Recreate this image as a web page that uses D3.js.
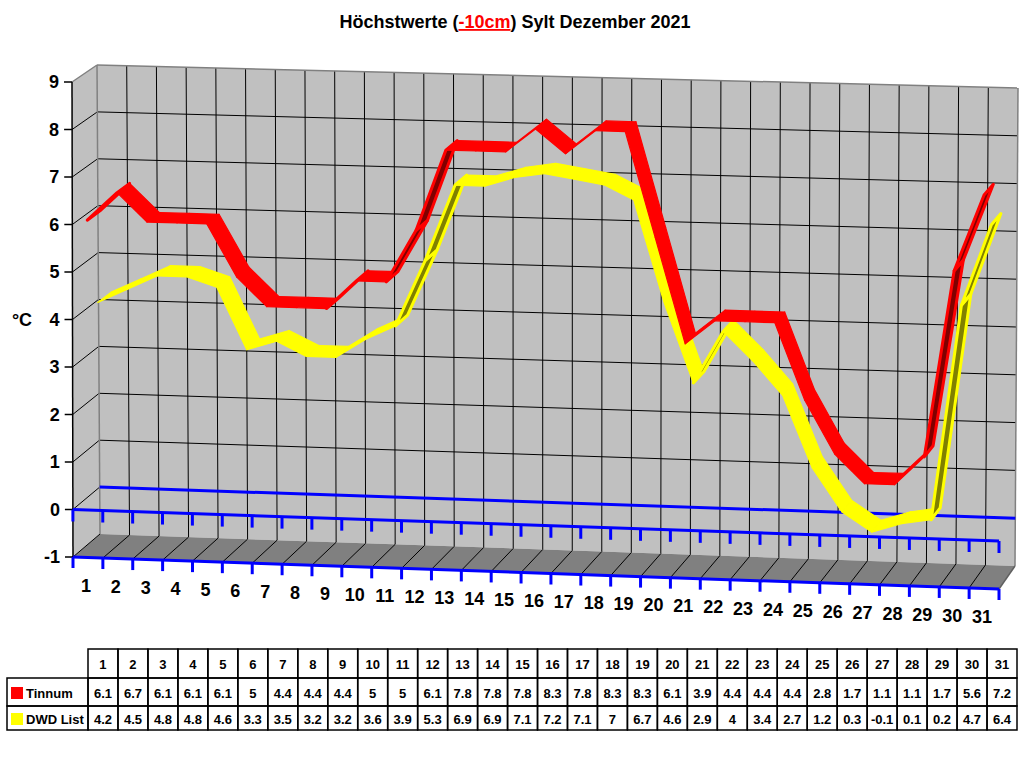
<!DOCTYPE html>
<html>
<head>
<meta charset="utf-8">
<script src="https://cdn.jsdelivr.net/npm/d3@7"></script>
<style>
body { margin: 0; background: #fff; }
text { font-family: "Liberation Sans", Arial, sans-serif; font-weight: bold; fill: #000; }
</style>
</head>
<body>
<div id="chart"></div>
<script>
const width = 1024;
const height = 768;
const titleParts = ["Höchstwerte (", "-10cm", ") Sylt Dezember 2021"];

const days = d3.range(1, 32);
const seriesNames = ["Tinnum", "DWD List"];
const tinnum = [6.1, 6.7, 6.1, 6.1, 6.1, 5, 4.4, 4.4, 4.4, 5, 5, 6.1, 7.8, 7.8, 7.8, 8.3, 7.8, 8.3, 8.3, 6.1, 3.9, 4.4, 4.4, 4.4, 2.8, 1.7, 1.1, 1.1, 1.7, 5.6, 7.2];
const dwdList = [4.2, 4.5, 4.8, 4.8, 4.6, 3.3, 3.5, 3.2, 3.2, 3.6, 3.9, 5.3, 6.9, 6.9, 7.1, 7.2, 7.1, 7, 6.7, 4.6, 2.9, 4, 3.4, 2.7, 1.2, 0.3, -0.1, 0.1, 0.2, 4.7, 6.4];
const yTicks = d3.range(-1, 10);

const seriesColors = ["#ff0000", "#ffff00"];
const seriesDark = ["#800000", "#808000"];
const seriesDepth = [[0.0, 0.5], [0.4, 0.92]]; // front / back position of each ribbon

const svg = d3.select("#chart").append("svg")
    .attr("width", width)
    .attr("height", height);

// the 3d box is mapped by its 8 screen corners, key = u v w (category, value, depth)
const uScale = d3.scaleLinear().domain([0, days.length]).range([0, 1]);
const vScale = d3.scaleLinear().domain([-1, 9]).range([0, 1]);
const box = {
    "000": [73, 557], "010": [72, 82], "100": [999, 589], "110": [999, 109],
    "001": [100, 534], "011": [97, 65], "101": [1015, 566], "111": [1018, 88]
};

function project(c, val, w) {
    const u = uScale(c), v = vScale(val);
    let x = 0, y = 0;
    for (const key in box) {
        const f = (key[0] === "1" ? u : 1 - u) * (key[1] === "1" ? v : 1 - v) * (key[2] === "1" ? w : 1 - w);
        x += f * box[key][0];
        y += f * box[key][1];
    }
    return [x, y];
}

const poly = pts => "M" + pts.map(p => p.join(",")).join("L") + "Z";
const n = days.length;

function line(g, a, b, color, sw) {
    g.append("line")
        .attr("x1", a[0]).attr("y1", a[1])
        .attr("x2", b[0]).attr("y2", b[1])
        .attr("stroke", color)
        .attr("stroke-width", sw);
}

// walls and floor
const walls = svg.append("g");
walls.append("path")
    .attr("d", poly([project(0, -1, 1), project(n, -1, 1), project(n, 9, 1), project(0, 9, 1)]))
    .attr("fill", "#c0c0c0");
walls.append("path")
    .attr("d", poly([project(0, -1, 0), project(0, -1, 1), project(0, 9, 1), project(0, 9, 0)]))
    .attr("fill", "#c0c0c0");
walls.append("path")
    .attr("d", poly([project(0, -1, 0), project(n, -1, 0), project(n, -1, 1), project(0, -1, 1)]))
    .attr("fill", "#808080");

const grid = svg.append("g");
yTicks.filter(v => v > 0 && v < 9).forEach(v => line(grid, project(0, v, 1), project(n, v, 1), "#000", 1));
yTicks.filter(v => v >= 0 && v < 9).forEach(v => line(grid, project(0, v, 0), project(0, v, 1), "#000", 1));
d3.range(1, n).forEach(k => line(grid, project(k, -1, 1), project(k, 9, 1), "#000", 1));
d3.range(0, n).forEach(k => line(grid, project(k, -1, 0), project(k, -1, 1), "#000", 1));

// box edges
line(grid, project(0, 9, 1), project(n, 9, 1), "#808080", 1.5);
line(grid, project(0, 9, 0), project(0, 9, 1), "#808080", 1.5);
line(grid, project(0, -1, 1), project(0, 9, 1), "#808080", 1.5);
line(grid, project(n, -1, 1), project(n, 9, 1), "#808080", 1.5);
line(grid, project(n, -1, 0), project(n, -1, 1), "#606060", 1.5);

// blue zero lines and category axis
const axes = svg.append("g");
line(axes, project(0, 0, 1), project(n, 0, 1), "#0000ff", 3);

// value axis
line(axes, project(0, -1, 0), project(0, 9, 0), "#000", 1.5);
yTicks.forEach(v => {
    const p = project(0, v, 0);
    line(axes, [p[0] - 8, p[1]], p, "#000", 1.5);
    axes.append("text")
        .attr("x", p[0] - 13)
        .attr("y", p[1])
        .attr("dy", "0.35em")
        .attr("text-anchor", "end")
        .attr("font-size", 18)
        .text(v);
});
axes.append("text")
    .attr("x", 22).attr("y", 320).attr("dy", "0.35em")
    .attr("text-anchor", "middle")
    .attr("font-size", 18)
    .text("°C");

// ribbons, back series first
const ribbons = svg.append("g");
[dwdList, tinnum].forEach((vals, r) => {
    const s = 1 - r;
    const [w0, w1] = seriesDepth[s];
    for (let i = 0; i < vals.length - 1; i++) {
        const a = project(i + 0.5, vals[i], w0);
        const b = project(i + 1.5, vals[i + 1], w0);
        const c = project(i + 1.5, vals[i + 1], w1);
        const d = project(i + 0.5, vals[i], w1);
        const cross = (b[0] - a[0]) * (d[1] - a[1]) - (b[1] - a[1]) * (d[0] - a[0]);
        const under = cross > 0;
        ribbons.append("path")
            .attr("d", poly([a, b, c, d]))
            .attr("fill", under ? seriesDark[s] : seriesColors[s])
            .attr("stroke", seriesColors[s])
            .attr("stroke-width", under ? 3 : 1.2)
            .attr("stroke-linejoin", "round");
    }
});

// front axis lines with ticks
const front = svg.append("g");
line(front, project(0, 0, 0), project(n, 0, 0), "#0000ff", 3);
line(front, project(0, -1, 0), project(n, -1, 0), "#0000ff", 3);
d3.range(0, n + 1).forEach(k => {
    const p0 = project(k, 0, 0);
    const p1 = project(k, -1, 0);
    line(front, [p0[0], p0[1]], [p0[0], p0[1] + 12], "#0000ff", 3);
    line(front, [p1[0], p1[1]], [p1[0], p1[1] + 11], "#0000ff", 3);
});
days.forEach((d, i) => {
    const p = project(i + 0.5, -1, 0);
    front.append("text")
        .attr("x", p[0] - 2)
        .attr("y", p[1] + 28)
        .attr("dy", "0.35em")
        .attr("text-anchor", "middle")
        .attr("font-size", 18)
        .text(d);
});

// title
const title = svg.append("text")
    .attr("x", 515).attr("y", 28)
    .attr("text-anchor", "middle")
    .attr("font-size", 18);
titleParts.forEach((t, i) => {
    title.append("tspan")
        .style("fill", i === 1 ? "#ff0000" : "#000")
        .style("text-decoration", i === 1 ? "underline" : "none")
        .text(t);
});

// data table
const colX = d3.scaleLinear().domain([0, days.length]).range([88, 1017]);
const rowY = [649, 678, 706, 730];
const table = svg.append("g")
    .attr("font-size", 13);

function cell(x0, x1, y0, y1, label) {
    table.append("rect")
        .attr("x", x0).attr("y", y0)
        .attr("width", x1 - x0).attr("height", y1 - y0)
        .attr("fill", "none")
        .attr("stroke", "#000")
        .attr("stroke-width", 1.5);
    if (label !== undefined) {
        table.append("text")
            .attr("x", (x0 + x1) / 2)
            .attr("y", (y0 + y1) / 2 + 1)
            .attr("dy", "0.35em")
            .attr("text-anchor", "middle")
            .attr("font-size", 13)
            .text(label);
    }
}

days.forEach((d, i) => cell(colX(i), colX(i + 1), rowY[0], rowY[1], d));
[tinnum, dwdList].forEach((vals, s) => {
    const y0 = rowY[s + 1], y1 = rowY[s + 2];
    cell(7, colX(0), y0, y1);
    table.append("rect")
        .attr("x", 11).attr("y", (y0 + y1) / 2 - 5)
        .attr("width", 12).attr("height", 12)
        .attr("fill", seriesColors[s]);
    table.append("text")
        .attr("x", 26).attr("y", (y0 + y1) / 2 + 1)
        .attr("dy", "0.35em")
        .attr("font-size", 13)
        .text(seriesNames[s]);
    vals.forEach((v, i) => cell(colX(i), colX(i + 1), y0, y1, v));
});
</script>
</body>
</html>
